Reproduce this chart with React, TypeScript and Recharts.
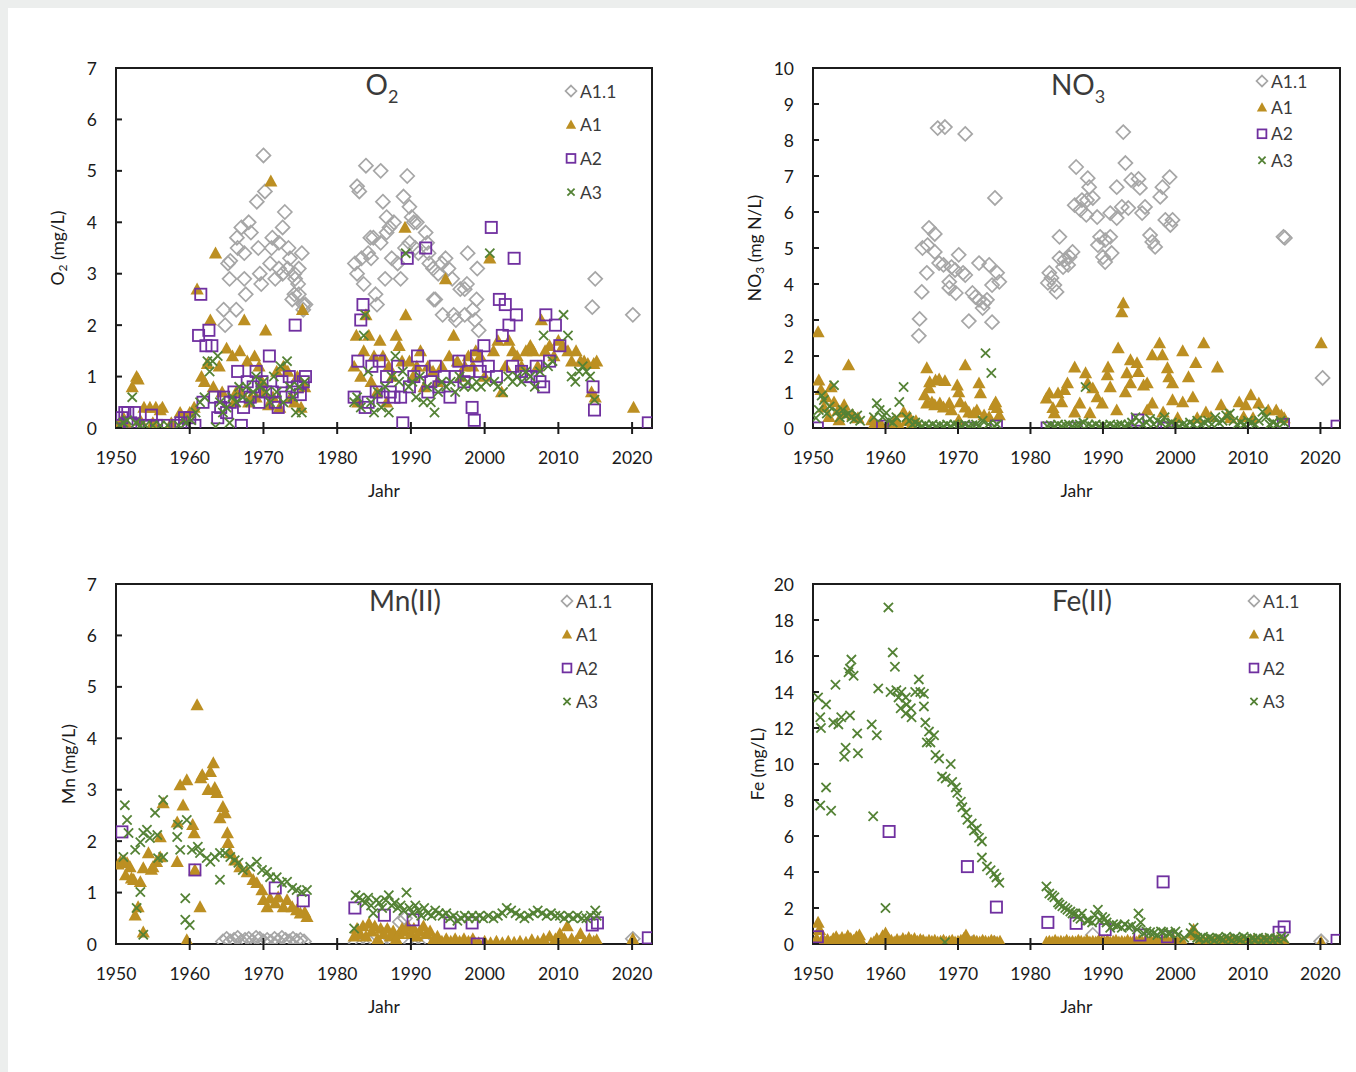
import React from 'react';
import { ScatterChart, Scatter, XAxis, YAxis, ReferenceArea, Legend } from 'recharts';

type Pt = [number, number];

// axes
const yearTicks = [1950, 1960, 1970, 1980, 1990, 2000, 2010, 2020];
const X_MAX = 2022.7;
const o2Ticks = [0, 1, 2, 3, 4, 5, 6, 7];
const no3Ticks = [0, 1, 2, 3, 4, 5, 6, 7, 8, 9, 10];
const mnTicks = [0, 1, 2, 3, 4, 5, 6, 7];
const feTicks = [0, 2, 4, 6, 8, 10, 12, 14, 16, 18, 20];
const seriesNames = ['A1.1', 'A1', 'A2', 'A3'];

// ---- O2 ----
const o2A11: Pt[] = [[1964.6,2.3],[1964.8,2.0],[1965.2,3.2],[1965.5,3.25],[1965.4,2.9],[1966.3,2.3],[1966.4,3.7],[1966.5,3.5],[1967,3.9],[1967.4,3.4],[1967.4,2.9],[1967.6,2.6],[1968,4.0],[1968.3,3.8],[1969.1,4.4],[1969.3,3.5],[1969.5,3.0],[1969.7,2.8],[1970,5.3],[1970.2,4.6],[1970.9,3.2],[1971.1,3.5],[1971.2,3.7],[1971.6,2.9],[1972.1,3.6],[1972.1,3.1],[1972.6,3.9],[1972.6,3.0],[1972.9,4.2],[1973.3,3.1],[1973.4,3.5],[1973.6,3.3],[1973.9,2.5],[1974.2,2.6],[1974.2,3.0],[1974.3,2.9],[1974.7,2.8],[1974.8,2.6],[1974.8,3.1],[1975.2,3.4],[1975.4,2.4],[1975.4,2.3],[1975.7,2.4],
  [1982.4,3.2],[1982.7,4.7],[1982.7,3.0],[1983,4.6],[1983.3,3.3],[1983.6,2.8],[1983.9,5.1],[1984.2,3.4],[1984.5,3.7],[1984.6,3.3],[1984.9,3.7],[1985.2,2.6],[1985.4,2.4],[1985.9,5.0],[1985.9,3.6],[1986.2,4.4],[1986.5,2.9],[1986.7,4.1],[1986.7,3.8],[1987.1,3.9],[1987.4,3.3],[1987.7,4.0],[1988.2,3.2],[1988.6,2.9],[1989,4.5],[1989.2,3.5],[1989.5,4.9],[1989.8,4.3],[1989.8,3.6],[1990.1,4.1],[1990.4,4.0],[1990.6,3.5],[1990.8,4.0],[1991,3.4],[1992,3.8],[1992.2,3.6],[1992.4,3.4],[1992.5,3.2],[1993,3.1],[1993.1,2.5],[1993.3,2.5],[1993.7,3.0],[1994.2,3.2],[1994.3,2.2],[1994.7,3.3],[1995.1,3.1],[1995.6,2.9],[1995.8,2.2],[1996.1,2.1],[1996.7,2.7],[1997.3,2.7],[1997.3,2.2],[1997.6,2.8],[1997.7,3.4],[1998.4,2.3],[1998.7,2.1],[1998.9,2.5],[1999,3.1],[1999.2,1.9],[2014.6,2.35],[2015,2.9],[2020.1,2.2]];
const o2A1: Pt[] = [[1950.5,0.1],[1951,0.2],[1951.5,0.05],[1952.2,0.8],[1952.8,1.0],[1953,0.95],[1953.3,0.15],[1953.8,0.4],[1954.6,0.4],[1955,0.1],[1955.4,0.4],[1956,0.35],[1956.3,0.4],[1957.5,0.1],[1958.7,0.3],[1959.4,0.2],[1960,0.3],[1960.6,0.4],
  [1961,2.7],[1961.6,1.0],[1962,0.9],[1962.4,1.25],[1962.8,2.1],[1963.2,0.8],[1963.5,3.4],[1964,1.2],[1964.4,0.7],[1965,1.55],[1965.8,1.4],[1966,0.5],[1966.3,0.7],[1966.8,1.5],[1967,0.7],[1967.4,2.1],[1967.8,1.3],[1968,0.5],[1968.3,0.6],[1968.8,1.4],[1969,0.6],[1969.4,1.2],[1969.8,0.9],[1970,0.7],[1970.3,1.9],[1970.7,0.45],[1971,4.8],[1971.3,0.6],[1971.8,1.1],[1972.2,0.4],[1972.7,1.2],[1973.3,1.1],[1973.7,0.6],[1974.2,0.5],[1974.6,1.0],[1975.1,0.4],[1975.3,2.3],[1975.6,0.8],
  [1982.3,1.2],[1982.6,1.8],[1982.8,0.5],[1983.2,1.0],[1983.6,1.5],[1983.9,2.2],[1984.3,1.8],[1984.6,0.9],[1985,1.4],[1985.4,0.7],[1985.8,1.7],[1986.2,1.4],[1986.7,0.5],[1987,1.2],[1987.5,1.0],[1988,1.8],[1988.4,1.6],[1988.8,1.3],[1989.2,3.9],[1989.3,2.2],[1989.8,1.3],[1990.3,1.0],[1990.8,1.2],[1991.3,1.5],[1991.8,0.8],[1992.3,1.2],[1993,1.1],[1993.6,0.9],[1994.2,1.2],[1994.7,2.9],[1995.2,1.4],[1995.8,1.8],[1996.3,1.3],[1996.8,1.0],[1997.3,1.2],[1997.8,1.4],[1998.4,1.2],[1998.8,1.5],[1999.4,1.4],[2000,1.0],[2000.7,3.3],[2001.2,1.5],[2001.8,1.7],[2002.3,0.7],[2002.8,1.2],[2003.3,1.7],[2003.8,1.5],[2004.4,1.4],[2005,1.2],[2005.6,1.5],[2006.2,1.6],[2006.6,1.5],[2007.2,1.2],[2007.7,2.1],[2008.2,1.5],[2008.8,1.6],[2009.4,1.4],[2010,1.7],[2010.6,1.6],[2011.3,1.5],[2011.8,1.3],[2012.4,1.5],[2013,1.3],[2013.5,1.3],[2014,1.25],[2014.5,0.7],[2014.8,1.25],[2015,0.6],[2015.2,1.3],[2020.2,0.4]];
const o2A2: Pt[] = [[1950.3,0.05],[1950.8,0.2],[1951.2,0.3],[1951.6,0.3],[1952,0.1],[1952.5,0.3],[1953,0.05],[1954,0.05],[1954.8,0.25],[1955.5,0.05],[1956.5,0.05],[1958.3,0.05],[1958.8,0.1],[1959.3,0.2],[1960,0.2],[1960.7,0.05],[1961.2,1.8],[1961.5,2.6],[1961.8,0.5],[1962.2,1.6],[1962.6,1.9],[1963,1.6],[1963.4,0.6],[1963.8,0.2],[1964.2,0.4],[1964.6,0.6],[1965,0.3],[1965.5,0.5],[1966,0.7],[1966.5,1.1],[1967,0.05],[1967.3,0.4],[1967.8,0.9],[1968.2,0.6],[1968.6,0.8],[1969,1.1],[1969.4,0.5],[1969.8,0.9],[1970.3,0.7],[1970.8,1.4],[1971.2,0.7],[1971.6,0.5],[1972,0.4],[1972.5,0.9],[1973,0.6],[1973.5,1.0],[1973.9,0.7],[1974.3,2.0],[1974.6,0.8],[1975,0.65],[1975.4,0.9],[1975.7,1.0],
  [1982.3,0.6],[1982.8,1.3],[1983.2,2.1],[1983.5,2.4],[1983.8,0.4],[1984.2,0.5],[1984.7,1.2],[1985.3,0.7],[1985.7,1.3],[1986.2,0.6],[1986.7,1.0],[1987.2,0.7],[1987.7,0.6],[1988.2,1.2],[1988.6,0.6],[1988.9,0.1],[1989.5,3.3],[1989.8,0.8],[1990.4,1.0],[1990.9,1.4],[1991.4,1.1],[1992,3.5],[1992.3,0.7],[1992.7,0.9],[1993.3,1.2],[1993.8,0.8],[1994.5,1.0],[1995.3,0.6],[1996,1.0],[1996.5,1.3],[1997.2,0.9],[1997.8,1.1],[1998.3,0.4],[1998.6,0.15],[1998.9,1.4],[1999.4,1.1],[1999.9,1.6],[2000.5,1.2],[2000.9,3.9],[2001.6,1.0],[2002,2.5],[2002.4,1.8],[2002.8,2.4],[2003.3,2.0],[2003.8,1.2],[2004,3.3],[2004.3,2.2],[2005,1.1],[2005.6,1.0],[2006.3,1.0],[2007,1.2],[2007.5,0.9],[2008,0.8],[2008.3,2.2],[2008.8,1.3],[2009.6,2.0],[2010.2,1.6],[2014.7,0.8],[2014.9,0.35],[2022.2,0.1]];
const o2A3: Pt[] = [[1950.5,0.05],[1951,0.1],[1951.5,0.15],[1952.2,0.6],[1952.7,0.1],[1953.3,0.05],[1954,0.05],[1955,0.05],[1956,0.05],[1957,0.05],[1958.5,0.05],[1959.5,0.1],[1960.2,0.15],[1960.8,0.3],[1961.4,0.5],[1962,0.6],[1962.4,1.3],[1962.7,1.1],[1963.1,1.3],[1963.5,0.02],[1963.8,1.4],[1964.1,0.5],[1964.5,0.3],[1965,0.4],[1965.4,0.1],[1965.8,0.6],[1966.3,0.5],[1966.7,0.8],[1967.2,0.6],[1967.7,0.8],[1968.2,0.5],[1968.6,0.7],[1969,1.0],[1969.5,0.8],[1970,0.9],[1970.4,0.7],[1970.9,0.5],[1971.4,1.0],[1971.8,0.7],[1972.3,1.2],[1972.7,0.5],[1973.2,1.3],[1973.6,0.8],[1974,0.6],[1974.4,0.3],[1974.8,0.8],[1975.2,0.3],[1975.6,0.9],
  [1982.3,0.5],[1982.7,0.6],[1983.2,0.4],[1983.6,1.8],[1983.8,2.2],[1984.2,1.1],[1984.6,0.5],[1985,0.3],[1985.5,0.7],[1986,0.4],[1986.5,0.8],[1987,0.3],[1987.4,1.0],[1987.9,1.4],[1988.4,0.9],[1988.9,1.1],[1989.3,3.4],[1989.7,0.8],[1990.2,0.9],[1990.7,0.6],[1991.2,1.0],[1991.7,0.5],[1992.2,0.8],[1992.7,0.5],[1993.2,0.3],[1993.7,0.7],[1994.2,0.9],[1994.8,0.8],[1995.4,0.9],[1996,0.7],[1996.6,1.0],[1997.2,0.8],[1997.7,0.9],[1998.3,0.8],[1998.9,0.9],[1999.5,0.8],[2000.2,0.9],[2000.7,3.4],[2001.3,0.9],[2001.8,0.8],[2002.5,0.7],[2003.2,1.0],[2003.8,0.9],[2004.4,1.0],[2005,0.9],[2005.6,1.1],[2006.2,1.0],[2006.8,0.8],[2007.5,1.1],[2008,1.8],[2008.6,1.2],[2009.2,1.3],[2010.7,2.2],[2011.3,1.8],[2011.8,1.0],[2012.3,0.9],[2012.8,1.1],[2013.3,1.2],[2013.8,1.1],[2014.3,1.0],[2014.9,0.55]];

// ---- NO3 ----
const no3A11: Pt[] = [[1964.6,2.56],[1964.7,3.03],[1965,3.78],[1965.1,5.0],[1965.7,4.31],[1965.8,5.08],[1966,5.56],[1966.8,5.39],[1966.8,4.89],[1967.2,8.33],[1967.4,4.58],[1968,4.53],[1968.2,8.36],[1968.8,4.06],[1968.8,3.89],[1969.1,4.47],[1969.6,4.39],[1969.7,3.75],[1970.1,4.81],[1970.7,4.31],[1971,8.17],[1971,4.25],[1971.5,2.97],[1972,3.75],[1972.4,3.64],[1972.9,4.58],[1972.9,3.56],[1973.4,3.33],[1973.6,3.47],[1974,3.56],[1974.3,4.53],[1974.7,3.97],[1974.7,2.94],[1975.1,6.39],[1975.4,4.31],[1975.7,4.06],
  [1982.4,4.03],[1982.6,4.31],[1982.9,4.17],[1983.3,3.97],[1983.6,3.78],[1984,5.31],[1984,4.72],[1984.5,4.47],[1984.7,4.67],[1985.2,4.53],[1985.4,4.75],[1985.8,4.89],[1986.1,6.19],[1986.3,7.25],[1986.9,6.06],[1987.1,6.33],[1987.7,5.92],[1987.8,6.33],[1987.9,6.94],[1988.1,6.69],[1988.6,6.39],[1989.2,5.86],[1989.3,5.08],[1989.6,5.31],[1990,4.75],[1990.3,5.22],[1990.3,4.61],[1991,5.97],[1991,5.31],[1991.2,4.86],[1991.9,6.69],[1991.9,5.83],[1992.6,6.14],[1992.8,8.22],[1993.1,7.36],[1993.5,6.11],[1993.9,6.89],[1994.9,6.92],[1995.1,6.67],[1995.4,5.97],[1995.8,6.14],[1996.5,5.36],[1996.8,5.17],[1997.2,5.03],[1997.9,6.42],[1998.2,6.69],[1998.6,5.78],[1999.2,6.97],[1999.3,5.64],[1999.6,5.78],[2014.9,5.31],[2015.1,5.28],[2020.3,1.39]];
const no3A1: Pt[] = [[1950.7,2.67],[1950.8,1.33],[1951.1,1.06],[1951.5,0.58],[1951.8,0.86],[1952.2,0.31],[1952.5,1.14],[1952.9,0.72],[1953.5,0.5],[1953.6,0.22],[1954.3,0.64],[1954.6,0.42],[1954.9,1.75],[1955.5,0.36],[1956.2,0.28],[1958.1,0.22],[1958.5,0.14],[1959,0.03],[1959.4,0.1],[1960.5,0.05],[1961.3,0.22],[1961.7,0.15],[1962.5,0.44],[1962.9,0.2],[1963.3,0.31],[1963.6,0.1],[1964.2,0.2],
  [1965.4,0.92],[1965.7,1.67],[1965.7,0.69],[1966,1.11],[1966.1,1.28],[1966.4,0.72],[1966.8,0.64],[1966.9,1.33],[1967.4,1.36],[1967.5,0.69],[1968,0.58],[1968.2,1.31],[1968.8,0.69],[1969.1,0.5],[1969.9,1.19],[1970.1,1.0],[1970.1,0.22],[1970.3,0.72],[1971,1.75],[1971,0.58],[1971.5,0.44],[1972.2,0.42],[1972.6,0.5],[1972.9,1.25],[1973.1,0.97],[1973.6,0.36],[1974.3,0.31],[1975,0.64],[1975.2,0.72],[1975.4,0.56],[1975.7,0.36],
  [1982.2,0.83],[1982.6,0.97],[1983.1,0.56],[1983.3,0.42],[1983.8,0.97],[1984.3,0.72],[1984.7,1.06],[1985.1,1.25],[1986.1,1.69],[1986.1,0.44],[1986.8,0.69],[1987.6,1.53],[1987.9,1.25],[1988.2,0.42],[1988.6,1.11],[1989.2,0.86],[1989.9,0.69],[1990.6,1.47],[1990.7,1.69],[1991,1.14],[1991.9,0.5],[1992.1,2.22],[1992.6,3.22],[1992.8,3.47],[1993.1,1.0],[1993.3,1.53],[1993.8,1.89],[1993.8,1.25],[1994.7,1.81],[1994.9,1.56],[1995.6,1.19],[1996.1,1.25],[1996.1,0.5],[1996.8,2.03],[1996.8,0.69],[1997.8,2.36],[1998.2,2.03],[1998.3,0.44],[1998.9,1.67],[1999.1,1.42],[1999.6,1.25],[1999.6,0.78],[2000.3,0.28],[2001,2.14],[2001,0.72],[2001.8,1.42],[2002.4,0.86],[2002.8,1.81],[2003,0.28],[2003.9,2.36],[2004.2,0.44],[2004.9,0.31],[2005.8,1.69],[2006.3,0.64],[2007.2,0.36],[2007.6,0.28],[2008.8,0.72],[2009.4,0.31],[2009.7,0.64],[2010.4,0.92],[2010.7,0.28],[2011.5,0.69],[2012.8,0.5],[2013.9,0.5],[2014.6,0.36],[2015,0.28],[2020.1,2.36]];
const no3A2: Pt[] = [[1950.6,0],[1959.6,0.05],[1971.5,0],[1975.3,0.05],[1982.3,0],[1986.3,0],[1994.8,0.22],[1998.4,0],[1998.8,0],[2014.9,0.1],[2022.3,0.05]];
const no3A3: Pt[] = [[1950.4,0.28],[1950.8,0.5],[1951.2,0.9],[1951.5,0.78],[1951.9,0.4],[1952.3,0.6],[1952.9,1.19],[1953.3,0.45],[1953.7,0.3],[1954.1,0.5],[1954.5,0.35],[1954.9,0.4],[1955.3,0.3],[1955.7,0.25],[1956.1,0.35],[1956.5,0.2],[1958.4,0.3],[1958.8,0.69],[1959.2,0.5],[1959.6,0.3],[1960.1,0.42],[1960.5,0.2],[1961,0.15],[1961.5,0.3],[1961.9,0.72],[1962.5,1.14],[1962.9,0.3],[1963.3,0.2],[1963.7,0.1],[1964.1,0.15],[1964.5,0.1],[1965,0.05],[1965.5,0.1],[1966,0.05],[1966.5,0.1],[1967,0.05],[1967.5,0.08],[1968,0.05],[1968.5,0.1],[1969,0.05],[1969.5,0.1],[1970,0.08],[1970.5,0.05],[1971,0.1],[1971.5,0.05],[1972,0.08],[1972.5,0.1],[1973,0.05],[1973.4,0.2],[1973.8,2.08],[1974.2,0.1],[1974.6,1.53],[1975,0.05],[1975.4,0.1],
  [1982.3,0.05],[1982.8,0.08],[1983.3,0.05],[1983.8,0.1],[1984.3,0.05],[1984.8,0.08],[1985.3,0.1],[1985.8,0.05],[1986.3,0.08],[1986.8,0.1],[1987.3,0.15],[1987.6,1.14],[1988,0.1],[1988.5,0.05],[1989,0.1],[1989.5,0.05],[1990,0.08],[1990.5,0.05],[1991,0.1],[1991.5,0.05],[1992,0.08],[1992.5,0.1],[1993,0.05],[1993.5,0.1],[1994,0.15],[1994.5,0.3],[1995,0.2],[1995.5,0.1],[1996,0.15],[1996.5,0.25],[1997,0.1],[1997.5,0.2],[1998,0.15],[1998.5,0.3],[1999,0.1],[1999.5,0.15],[2000,0.1],[2000.5,0.05],[2001,0.1],[2001.5,0.08],[2002,0.15],[2002.5,0.1],[2003,0.2],[2003.5,0.1],[2004,0.15],[2004.5,0.2],[2005,0.1],[2005.5,0.3],[2006,0.15],[2006.5,0.2],[2007,0.35],[2007.5,0.4],[2008,0.2],[2008.5,0.1],[2009,0.15],[2009.5,0.1],[2010,0.2],[2010.5,0.15],[2011,0.1],[2011.5,0.2],[2012,0.45],[2012.5,0.3],[2013,0.1],[2013.5,0.15],[2014,0.1],[2014.5,0.2],[2015,0.15]];

// ---- Mn(II) ----
const mnA11: Pt[] = [[1964.5,0.05],[1965,0.1],[1965.5,0.05],[1966,0.08],[1966.5,0.12],[1967,0.05],[1967.5,0.08],[1968,0.1],[1968.5,0.05],[1969,0.12],[1969.5,0.1],[1970,0.05],[1970.5,0.08],[1971,0.04],[1971.5,0.1],[1972,0.06],[1972.5,0.12],[1973,0.08],[1973.5,0.05],[1974,0.1],[1974.5,0.06],[1975,0.08],[1975.5,0.05],[1982.5,0.02],[1983.5,0.01],[1984.5,0.02],[1986,0.01],[1987.5,0.02],[1988.5,0.43],[1989.2,0.5],[1990,0.02],[1991,0.01],[1992,0.02],[2020.1,0.1]];
const mnA1: Pt[] = [[1950.3,1.55],[1950.6,1.6],[1951.1,1.62],[1951.3,1.34],[1951.5,1.58],[1951.9,1.5],[1952.1,1.28],[1952.4,1.25],[1952.6,0.56],[1953,0.72],[1953.3,1.21],[1953.7,1.48],[1953.7,0.23],[1954.4,1.77],[1954.8,1.45],[1955,1.5],[1955.5,1.6],[1956,1.69],[1956,2.08],[1956.4,2.74],
  [1958.3,1.6],[1958.3,2.37],[1958.7,3.09],[1959.1,2.7],[1959.6,3.19],[1959.6,0.08],[1960.4,2.32],[1960.6,2.16],[1960.7,1.44],[1961,4.65],[1961.4,0.72],[1961.5,3.23],[1961.7,3.29],[1962.5,3.0],[1962.8,3.35],[1963.2,3.52],[1963.4,3.04],[1963.7,2.94],[1964.1,2.45],[1964.5,2.67],[1964.8,2.55],[1965.1,2.16],[1965.2,1.97],[1965.5,1.77],[1966.1,1.63],[1966.8,1.5],[1967.8,1.4],[1968.6,1.25],[1969.1,1.19],[1969.8,1.05],[1970,0.86],[1970.5,0.72],[1970.9,0.89],[1971.6,0.8],[1972,0.91],[1972.7,0.72],[1973.2,0.86],[1973.9,0.72],[1974.5,0.66],[1975,0.6],[1975.6,0.62],[1975.9,0.53],
  [1982.3,0.15],[1982.7,0.3],[1983.1,0.2],[1983.5,0.35],[1983.9,0.15],[1984.3,0.4],[1984.7,0.25],[1985.1,0.35],[1985.5,0.1],[1985.9,0.3],[1986.3,0.2],[1986.8,0.3],[1987.2,0.15],[1987.6,0.25],[1988,0.1],[1988.4,0.2],[1988.8,0.3],[1989.2,0.25],[1989.6,0.35],[1990,0.2],[1990.4,0.3],[1990.8,0.15],[1991.2,0.25],[1991.7,0.35],[1992.1,0.2],[1992.6,0.25],[1993.1,0.1],[1993.6,0.15],[1994.2,0.05],[1994.8,0.1],[1995.4,0.05],[1996,0.1],[1996.6,0.05],[1997.2,0.1],[1997.8,0.05],[1998.4,0.1],[1999.2,0.02],[2000,0.05],[2000.8,0.02],[2001.6,0.05],[2002.4,0.02],[2003.2,0.05],[2004,0.03],[2004.8,0.05],[2005.6,0.03],[2006.4,0.08],[2007.2,0.05],[2008,0.1],[2008.8,0.15],[2009.6,0.1],[2010.2,0.2],[2010.8,0.1],[2011.2,0.35],[2011.8,0.1],[2012.4,0.05],[2013,0.2],[2013.6,0.05],[2014.2,0.1],[2014.8,0.05],[2015.2,0.08],[2020.1,0.1]];
const mnA2: Pt[] = [[1950.8,2.18],[1960.7,1.44],[1971.6,1.09],[1975.4,0.84],[1982.4,0.7],[1986.4,0.56],[1990.3,0.47],[1995.3,0.41],[1998.3,0.41],[1999,0],[2014.6,0.37],[2015.3,0.41],[2022.2,0.12]];
const mnA3: Pt[] = [[1951,1.69],[1951.2,2.7],[1951.5,2.41],[1951.7,2.16],[1952.6,1.83],[1952.8,0.7],[1953.3,1.98],[1953.3,1.01],[1953.7,2.16],[1953.7,0.18],[1954.2,2.22],[1954.6,2.06],[1955.3,2.55],[1955.6,2.12],[1955.7,1.67],[1956.4,2.8],[1956.4,1.69],[1958.3,2.08],[1958.4,2.32],[1958.7,1.83],[1959.4,0.89],[1959.4,0.47],[1959.6,2.41],[1960,0.37],[1960.3,1.83],[1961.1,1.89],[1961.4,1.77],[1962.3,1.67],[1962.8,1.6],[1963.4,1.69],[1964.1,1.77],[1964.1,1.25],[1964.8,1.77],[1965.5,1.69],[1966.1,1.63],[1966.6,1.58],[1967.2,1.44],[1968.2,1.5],[1969.1,1.6],[1969.8,1.44],[1970.5,1.4],[1970.9,1.3],[1971.8,1.3],[1972.5,1.19],[1973.2,1.21],[1973.9,1.09],[1974.5,1.05],[1975.2,1.01],[1975.9,1.05],
  [1982.3,0.3],[1982.5,0.95],[1983,0.9],[1983.4,0.85],[1983.8,0.8],[1984.2,0.9],[1984.6,0.75],[1984.9,0.6],[1985.3,0.85],[1985.7,0.8],[1986.1,0.7],[1986.6,0.85],[1987,0.95],[1987.4,0.75],[1987.8,0.8],[1988.2,0.7],[1988.6,0.75],[1989,0.65],[1989.4,1.0],[1989.8,0.7],[1990.2,0.6],[1990.6,0.75],[1991,0.65],[1991.4,0.55],[1991.8,0.7],[1992.3,0.6],[1992.8,0.55],[1993.3,0.65],[1993.8,0.6],[1994.3,0.55],[1994.8,0.6],[1995.3,0.5],[1995.8,0.55],[1996.3,0.45],[1996.8,0.5],[1997.3,0.55],[1997.8,0.5],[1998.3,0.55],[1998.8,0.5],[1999.3,0.55],[1999.8,0.5],[2000.5,0.55],[2001.2,0.5],[2001.8,0.55],[2002.4,0.6],[2003,0.7],[2003.6,0.65],[2004.2,0.6],[2004.8,0.55],[2005.4,0.5],[2006,0.55],[2006.6,0.6],[2007.2,0.65],[2007.8,0.6],[2008.4,0.55],[2009,0.6],[2009.6,0.55],[2010.2,0.55],[2010.8,0.5],[2011.4,0.55],[2012,0.5],[2012.6,0.55],[2013.2,0.5],[2013.8,0.5],[2014.4,0.55],[2015,0.65],[2015.2,0.55]];

// ---- Fe(II) ----
const feA11: Pt[] = [[1965,0.05],[1968,0.05],[1972,0.05],[1975,0.05],[1985,0.02],[1988.6,0.5],[1990,0.02],[2020.1,0.15]];
const feA1: Pt[] = [[1950.5,0.3],[1950.7,1.2],[1950.9,0.8],[1951.2,0.2],[1951.6,0.15],[1952,0.25],[1952.4,0.1],[1952.8,0.3],[1953.2,0.4],[1953.6,0.2],[1954,0.35],[1954.4,0.25],[1954.8,0.45],[1955.2,0.3],[1955.6,0.2],[1956,0.4],[1956.4,0.5],[1956.6,0.2],[1958,0.05],[1958.4,0.1],[1958.8,0.3],[1959.2,0.15],[1959.6,0.45],[1960,0.6],[1960.4,0.3],[1960.8,0.2],[1961.2,0.1],[1961.6,0.25],[1962,0.15],[1962.4,0.3],[1962.8,0.2],[1963.2,0.35],[1963.6,0.2],[1964,0.3],[1964.4,0.15],[1964.8,0.25],[1965.2,0.2],[1965.6,0.1],[1966,0.2],[1966.4,0.15],[1966.8,0.2],[1967.2,0.1],[1967.6,0.15],[1968,0.2],[1968.4,0.1],[1968.8,0.15],[1969.2,0.2],[1969.6,0.1],[1970,0.15],[1970.4,0.2],[1970.8,0.3],[1971.1,0.5],[1971.4,0.2],[1971.8,0.1],[1972.2,0.2],[1972.6,0.15],[1973,0.1],[1973.4,0.2],[1973.8,0.15],[1974.2,0.1],[1974.6,0.2],[1975,0.15],[1975.4,0.1],[1975.8,0.15],
  [1982.2,0.1],[1982.6,0.15],[1983,0.1],[1983.4,0.2],[1983.8,0.1],[1984.2,0.15],[1984.6,0.1],[1985,0.2],[1985.4,0.1],[1985.8,0.15],[1986.2,0.1],[1986.6,0.2],[1987,0.15],[1987.4,0.1],[1987.8,0.2],[1988.2,0.1],[1988.6,0.15],[1989,0.1],[1989.4,0.2],[1989.8,0.15],[1990.2,0.1],[1990.6,0.2],[1991,0.1],[1991.4,0.15],[1991.8,0.2],[1992.2,0.1],[1992.6,0.15],[1993,0.1],[1993.4,0.2],[1993.8,0.1],[1994.2,0.15],[1994.6,0.1],[1995,0.2],[1995.4,0.1],[1995.8,0.15],[1996.2,0.1],[1996.6,0.2],[1997,0.1],[1997.4,0.15],[1997.8,0.1],[1998.2,0.2],[1998.6,0.1],[1999,0.15],[1999.4,0.1],[1999.8,0.2],[2000.2,0.1],[2000.6,0.15],[2001,0.1],[2002.2,0.6],[2002.5,0.8],[2002.8,0.5],[2003.2,0.1],[2003.6,0.15],[2004,0.1],[2004.4,0.2],[2004.8,0.1],[2005.2,0.15],[2005.6,0.1],[2006,0.2],[2006.4,0.1],[2006.8,0.15],[2007.2,0.1],[2007.6,0.2],[2008,0.1],[2008.4,0.15],[2008.8,0.1],[2009.2,0.2],[2009.6,0.1],[2010,0.15],[2010.4,0.1],[2010.8,0.2],[2011.2,0.1],[2011.6,0.15],[2012,0.1],[2012.4,0.2],[2012.8,0.1],[2013.2,0.15],[2013.6,0.1],[2014,0.2],[2014.4,0.1],[2014.8,0.15],[2015.1,0.1],[2020.1,0.1]];
const feA2: Pt[] = [[1950.6,0.4],[1960.5,6.25],[1971.3,4.3],[1975.3,2.05],[1982.4,1.2],[1986.3,1.15],[1990.3,0.8],[1995.1,0.5],[1998.3,3.45],[1998.9,0.4],[2014.3,0.65],[2015,0.95],[2022.3,0.2]];
const feA3: Pt[] = [[1950.7,13.7],[1951,12.6],[1951,7.7],[1951.1,12.0],[1951.8,13.3],[1951.8,8.7],[1952.5,7.4],[1952.8,12.3],[1953.1,14.4],[1953.5,12.2],[1953.9,12.6],[1954.3,10.4],[1954.5,10.9],[1954.9,15.1],[1955.1,15.3],[1955.1,12.7],[1955.3,15.8],[1955.6,14.9],[1956.1,11.7],[1956.2,10.6],[1958.1,12.2],[1958.3,7.1],[1958.8,11.6],[1959,14.2],[1960,2.0],[1960.4,18.7],[1960.7,14.0],[1961,16.2],[1961.3,15.4],[1961.5,14.1],[1961.8,13.7],[1962.1,13.1],[1962.2,14.0],[1962.8,13.7],[1962.8,12.8],[1962.9,13.3],[1963.5,13.1],[1963.6,12.6],[1964.1,14.0],[1964.6,14.7],[1964.8,14.0],[1965.3,13.9],[1965.3,13.2],[1965.5,12.3],[1965.7,11.2],[1966,11.8],[1966.2,11.2],[1966.7,11.6],[1966.9,10.5],[1967.4,10.3],[1967.8,9.3],[1968.2,0.1],[1968.3,9.2],[1969,10.0],[1969.2,9.0],[1969.7,8.7],[1969.9,8.4],[1970.4,7.9],[1970.6,7.6],[1971.1,7.3],[1971.3,6.9],[1971.9,6.7],[1972.2,6.3],[1972.6,6.4],[1972.9,5.9],[1973.3,5.7],[1973.3,4.8],[1974,4.3],[1974.5,4.1],[1975,3.9],[1975.3,3.7],[1975.7,3.4],
  [1982.2,3.2],[1982.6,2.8],[1983,2.7],[1983.3,2.6],[1983.8,2.3],[1984,2.2],[1984.4,2.1],[1984.8,2.0],[1985.1,1.9],[1985.5,1.8],[1985.8,1.7],[1986.2,1.7],[1986.5,1.5],[1986.9,1.4],[1987.1,1.7],[1987.8,1.3],[1988,1.3],[1988.5,1.2],[1988.9,1.6],[1989.3,1.9],[1989.6,1.3],[1989.9,1.5],[1990.3,1.4],[1990.5,1.2],[1991,0.9],[1991.4,1.1],[1991.9,1.05],[1992,1.0],[1992.6,0.9],[1993,1.1],[1993.5,0.95],[1993.9,1.0],[1994.7,0.8],[1994.9,1.7],[1995.2,1.2],[1995.6,0.6],[1996,0.7],[1996.5,0.65],[1997,0.6],[1997.5,0.5],[1998,0.7],[1998.3,0.65],[1999,0.6],[1999.3,0.6],[2000,0.7],[2000.3,0.5],[2001.2,0.35],[2002.1,0.6],[2002.5,0.9],[2003,0.35],[2003.4,0.3],[2003.8,0.4],[2004.2,0.25],[2004.6,0.35],[2005,0.3],[2005.4,0.2],[2005.8,0.35],[2006.2,0.3],[2006.6,0.25],[2007,0.4],[2007.4,0.3],[2007.8,0.2],[2008.2,0.35],[2008.6,0.3],[2009,0.25],[2009.4,0.4],[2009.8,0.3],[2010.2,0.2],[2010.6,0.3],[2011,0.25],[2011.4,0.35],[2011.8,0.2],[2012.2,0.3],[2012.6,0.25],[2013,0.35],[2013.4,0.2],[2013.8,0.3],[2014.2,0.25],[2014.6,0.4],[2015,0.3]];

const FONT = 'Lato, "Open Sans", Arial, sans-serif';
const INK = '#1a1a1a';
const AXIS = '#1c1c1c';
const GRAY = '#a6a6a6';
const GOLD = '#bc8f22';
const PURPLE = '#7030a0';
const GREEN = '#548235';

type Kind = 'diamond' | 'triangle' | 'square' | 'cross';
const kinds: Kind[] = ['diamond', 'triangle', 'square', 'cross'];

const Marker = ({ kind, cx, cy, s = 1 }: { kind: Kind; cx: number; cy: number; s?: number }) => {
  if (cx == null || cy == null) return null;
  if (kind === 'diamond') {
    const r = 7 * s;
    return <path d={`M${cx},${cy - r}L${cx + r},${cy}L${cx},${cy + r}L${cx - r},${cy}Z`} fill="none" stroke={GRAY} strokeWidth={1.7} />;
  }
  if (kind === 'triangle') {
    const r = 6.6 * s;
    return <path d={`M${cx},${cy - r}L${cx + r},${cy + r * 0.8}L${cx - r},${cy + r * 0.8}Z`} fill={GOLD} />;
  }
  if (kind === 'square') {
    const r = 5.6 * s;
    return <rect x={cx - r} y={cy - r} width={2 * r} height={2 * r} fill="none" stroke={PURPLE} strokeWidth={1.8} />;
  }
  const r = 4.6 * s;
  return <path d={`M${cx - r},${cy - r}L${cx + r},${cy + r}M${cx - r},${cy + r}L${cx + r},${cy - r}`} stroke={GREEN} strokeWidth={1.8} fill="none" />;
};

const XTick = (props: any) => {
  const { x, y, payload } = props;
  return (
    <g>
      {payload.value !== 1950 && <line x1={x} x2={x} y1={y - 6} y2={y + 6} stroke={AXIS} strokeWidth={2} />}
      <text x={x} y={y + 29} textAnchor="middle" dominantBaseline="central" fontFamily={FONT} fontSize={17.5} fill={INK}>
        {payload.value}
      </text>
    </g>
  );
};

const YTick = (props: any) => {
  const { x, y, payload } = props;
  return (
    <g>
      <line x1={x} x2={x + 6} y1={y} y2={y} stroke={AXIS} strokeWidth={2} />
      <text x={x - 19} y={y} textAnchor="end" dominantBaseline="central" fontFamily={FONT} fontSize={17.5} fill={INK}>
        {payload.value}
      </text>
    </g>
  );
};

interface PanelProps {
  left: number;
  top: number;
  width: number;
  marginRight: number;
  yMax: number;
  yTicks: number[];
  yTitle: React.ReactNode;
  yTitleGap: number;
  title: React.ReactNode;
  titleX: number;
  legendX: number;
  legendY: number;
  legendStep: number;
  series: Pt[][];
}

const H = 530;
const M_TOP = 68;
const M_LEFT = 56;
const Y_W = 60;
const X_H = 60;
const M_BOTTOM = 42;

const Panel = (p: PanelProps) => {
  const sets = p.series.map((s) => s.map(([x, y]) => ({ x, y })));
  const overlay = () => (
    <svg width={p.width} height={H} style={{ position: 'absolute', left: 0, top: 0, overflow: 'visible' }}>
      <text x={p.titleX} y={M_TOP + 27} textAnchor="middle" fontFamily={FONT} fontSize={28} fill="#3a3a3a">
        {p.title}
      </text>
      {seriesNames.map((name, i) => (
        <g key={name}>
          <Marker kind={kinds[i]} cx={p.legendX} cy={p.legendY + i * p.legendStep} s={0.78} />
          <text x={p.legendX + 9} y={p.legendY + i * p.legendStep} dominantBaseline="central" fontFamily={FONT} fontSize={17.5} fill="#3a3a3a">
            {name}
          </text>
        </g>
      ))}
    </svg>
  );
  return (
    <div style={{ position: 'absolute', left: p.left, top: p.top }}>
      <ScatterChart width={p.width} height={H} margin={{ top: M_TOP, right: p.marginRight, bottom: M_BOTTOM, left: M_LEFT }}>
        <XAxis
          dataKey="x"
          type="number"
          domain={[1950, X_MAX]}
          ticks={yearTicks}
          interval={0}
          allowDataOverflow
          height={X_H}
          tickSize={0}
          tickMargin={0}
          tickLine={false}
          axisLine={{ stroke: AXIS, strokeWidth: 2 }}
          tick={(t: any) => <XTick {...t} />}
          label={{
            content: (l: any) => {
              const vb = l.viewBox;
              return (
                <text x={vb.x + vb.width / 2} y={vb.y + 62} textAnchor="middle" dominantBaseline="central" fontFamily={FONT} fontSize={17.5} fill={INK}>
                  Jahr
                </text>
              );
            },
          }}
        />
        <YAxis
          dataKey="y"
          type="number"
          domain={[0, p.yMax]}
          ticks={p.yTicks}
          interval={0}
          allowDataOverflow
          width={Y_W}
          tickSize={0}
          tickMargin={0}
          tickLine={false}
          axisLine={{ stroke: AXIS, strokeWidth: 2 }}
          tick={(t: any) => <YTick {...t} />}
          label={{
            content: (l: any) => {
              const vb = l.viewBox;
              const cx = vb.x + vb.width - p.yTitleGap;
              const cy = vb.y + vb.height / 2;
              return (
                <text x={cx} y={cy} transform={`rotate(-90 ${cx} ${cy})`} textAnchor="middle" dominantBaseline="central" fontFamily={FONT} fontSize={17.5} fill={INK}>
                  {p.yTitle}
                </text>
              );
            },
          }}
        />
        <ReferenceArea x1={1950} x2={X_MAX} y1={0} y2={p.yMax} fill="none" stroke={AXIS} strokeWidth={2} ifOverflow="visible" />
        {sets.map((d, i) => (
          <Scatter
            key={seriesNames[i]}
            name={seriesNames[i]}
            data={d}
            isAnimationActive={false}
            shape={(s: any) => <Marker kind={kinds[i]} cx={s.cx} cy={s.cy} />}
          />
        ))}
        <Legend
          layout="vertical"
          align="center"
          verticalAlign="middle"
          wrapperStyle={{ left: 0, top: 0, width: p.width, height: H, pointerEvents: 'none' }}
          content={overlay}
        />
      </ScatterChart>
    </div>
  );
};

export default function App() {
  return (
    <div style={{ position: 'absolute', left: 0, top: 0, width: 1356, height: 1072, background: '#eceeed', overflow: 'hidden' }}>
      <div style={{ position: 'absolute', left: 8, top: 8, width: 1348, height: 1064, background: '#ffffff' }} />
      <Panel
        left={0}
        top={0}
        width={680}
        marginRight={28}
        yMax={7}
        yTicks={o2Ticks}
        yTitle={<>O<tspan dy={5} fontSize={12}>2</tspan><tspan dy={-5}> (mg/L)</tspan></>}
        yTitleGap={59}
        title={<>O<tspan dy={8} fontSize={18}>2</tspan></>}
        titleX={382}
        legendX={571}
        legendY={91}
        legendStep={33.7}
        series={[o2A11, o2A1, o2A2, o2A3]}
      />
      <Panel
        left={697}
        top={0}
        width={659}
        marginRight={16}
        yMax={10}
        yTicks={no3Ticks}
        yTitle={<>NO<tspan dy={5} fontSize={12}>3</tspan><tspan dy={-5}> (mg N/L)</tspan></>}
        yTitleGap={59}
        title={<>NO<tspan dy={8} fontSize={18}>3</tspan></>}
        titleX={381}
        legendX={565}
        legendY={81}
        legendStep={26.4}
        series={[no3A11, no3A1, no3A2, no3A3]}
      />
      <Panel
        left={0}
        top={516}
        width={680}
        marginRight={28}
        yMax={7}
        yTicks={mnTicks}
        yTitle="Mn (mg/L)"
        yTitleGap={48}
        title="Mn(II)"
        titleX={405}
        legendX={567}
        legendY={85}
        legendStep={33.5}
        series={[mnA11, mnA1, mnA2, mnA3]}
      />
      <Panel
        left={697}
        top={516}
        width={659}
        marginRight={16}
        yMax={20}
        yTicks={feTicks}
        yTitle="Fe (mg/L)"
        yTitleGap={56}
        title="Fe(II)"
        titleX={385}
        legendX={557}
        legendY={85}
        legendStep={33.5}
        series={[feA11, feA1, feA2, feA3]}
      />
    </div>
  );
}
